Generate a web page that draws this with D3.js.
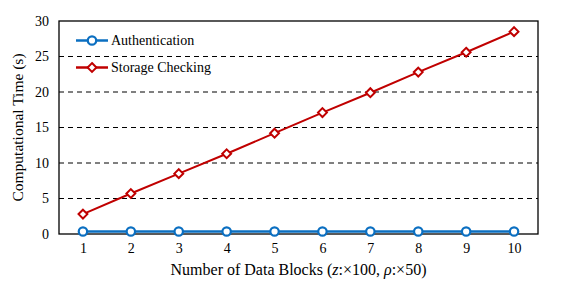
<!DOCTYPE html>
<html><head><meta charset="utf-8">
<script src="https://cdn.jsdelivr.net/npm/d3@7/dist/d3.min.js"></script>
<style>body{margin:0;background:#fff}svg{display:block}</style>
</head><body><svg id="c" width="561" height="286"></svg>
<script>
const blocks = [1,2,3,4,5,6,7,8,9,10];
const authentication = [0.35,0.35,0.35,0.35,0.35,0.35,0.35,0.35,0.35,0.35];
const storageChecking = [2.8,5.7,8.5,11.3,14.2,17.1,19.9,22.8,25.6,28.5];
const yTicks = [0,5,10,15,20,25,30];
const seriesNames = ["Authentication","Storage Checking"];

const FONT = "Liberation Serif, Tinos, DejaVu Serif, serif";
const svg = d3.select("#c");
const L=59, R=538, T=21, B=234;
const x = d3.scaleLinear().domain([0.5,10.5]).range([L,R]);
const y = d3.scaleLinear().domain([0,30]).range([B,T]);

svg.append("g").selectAll("line").data(yTicks.filter(d=>d>0&&d<30)).join("line")
  .attr("x1",L).attr("x2",R).attr("y1",d=>y(d)).attr("y2",d=>y(d))
  .attr("stroke","#000").attr("stroke-width",1).attr("stroke-dasharray","5,4");

const xa = svg.append("g").attr("transform",`translate(0,${B})`)
  .call(d3.axisBottom(x).tickValues(blocks).tickSize(0).tickPadding(9));
const ya = svg.append("g").attr("transform",`translate(${L},0)`)
  .call(d3.axisLeft(y).tickValues(yTicks).tickSize(0).tickPadding(10));
[xa,ya].forEach(a=>{a.attr("font-family",FONT).attr("font-size",14);a.select(".domain").remove();a.selectAll("text").attr("font-family",FONT).style("fill","#000");});

svg.append("rect").attr("x",L).attr("y",T).attr("width",R-L).attr("height",B-T)
  .attr("fill","none").attr("stroke","#000").attr("stroke-width",1.3);

const line = d3.line().x((d,i)=>x(blocks[i])).y(d=>y(d));
const blue="#0b6fc1", red="#c00000";

svg.append("path").datum(storageChecking).attr("d",line).attr("fill","none").attr("stroke",red).attr("stroke-width",2);
const diamond = d3.symbol().type(d3.symbolDiamond2).size(50);
svg.append("g").selectAll("path").data(storageChecking).join("path")
  .attr("d",diamond).attr("transform",(d,i)=>`translate(${x(blocks[i])},${y(d)})`)
  .attr("fill","#fff").attr("stroke",red).attr("stroke-width",2);

svg.append("path").datum(authentication).attr("d",line).attr("fill","none").attr("stroke",blue).attr("stroke-width",2.5);
svg.append("g").selectAll("circle").data(authentication).join("circle")
  .attr("cx",(d,i)=>x(blocks[i])).attr("cy",d=>y(d)).attr("r",4.2)
  .attr("fill","#fff").attr("stroke",blue).attr("stroke-width",2.2);

const lg = svg.append("g");
const items=[{n:seriesNames[0],c:blue,m:"c",yy:40.5},{n:seriesNames[1],c:red,m:"d",yy:67.5}];
items.forEach(it=>{
  lg.append("line").attr("x1",76).attr("x2",108).attr("y1",it.yy).attr("y2",it.yy).attr("stroke",it.c).attr("stroke-width",2.5);
  if(it.m==="c") lg.append("circle").attr("cx",92).attr("cy",it.yy).attr("r",4.2).attr("fill","#fff").attr("stroke",it.c).attr("stroke-width",2.2);
  else lg.append("path").attr("d",diamond).attr("transform",`translate(92,${it.yy})`).attr("fill","#fff").attr("stroke",it.c).attr("stroke-width",2);
  lg.append("text").attr("x",111).attr("y",it.yy+4.5).attr("font-family",FONT).attr("font-size",14).text(it.n);
});

const xt = svg.append("text").attr("x",(L+R)/2).attr("y",275).attr("text-anchor","middle").attr("font-family",FONT).attr("font-size",16);
xt.append("tspan").text("Number of Data Blocks (");
xt.append("tspan").attr("font-style","italic").text("z");
xt.append("tspan").text(":×100, ");
xt.append("tspan").attr("font-style","italic").text("ρ");
xt.append("tspan").text(":×50)");
svg.append("text").attr("transform",`translate(23,${(T+B)/2}) rotate(-90)`).attr("text-anchor","middle").attr("font-family",FONT).attr("font-size",15.5).text("Computational Time (s)");
</script></body></html>
